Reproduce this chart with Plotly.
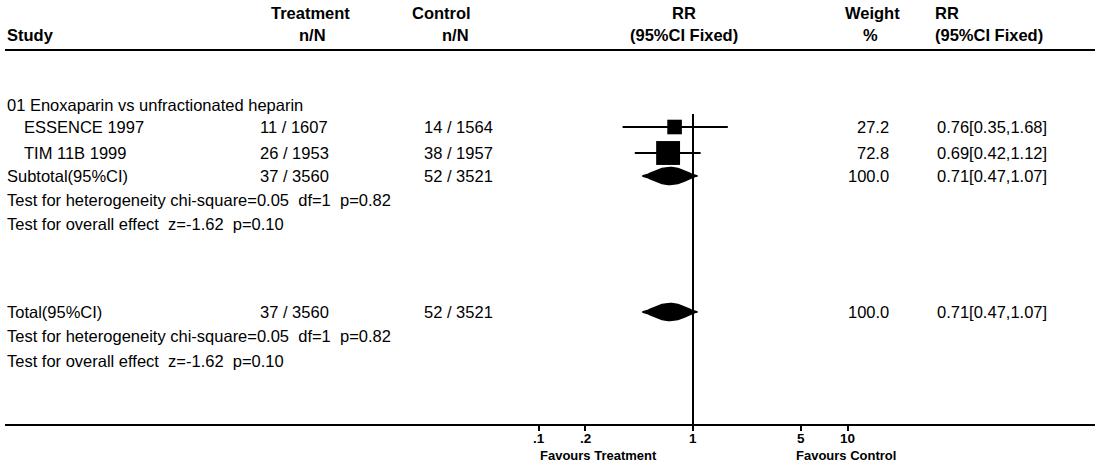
import plotly.graph_objects as go
import math

# ---------------- data ----------------
group_label = "01 Enoxaparin vs unfractionated heparin"
studies = ["ESSENCE 1997", "TIM 11B 1999"]
treat_events = [11, 26]
treat_total = [1607, 1953]
ctrl_events = [14, 38]
ctrl_total = [1564, 1957]
weights = [27.2, 72.8]
rr = [0.76, 0.69]
rr_lo = [0.35, 0.42]
rr_hi = [1.68, 1.12]

sub_treat = [37, 3560]
sub_ctrl = [52, 3521]
sub_weight = 100.0
sub_rr = [0.71, 0.47, 1.07]

het_chi2 = 0.05
het_df = 1
het_p = 0.82
overall_z = -1.62
overall_p = 0.10

tick_vals = [0.1, 0.2, 1, 5, 10]
tick_text = [".1", ".2", "1", "5", "10"]

# ---------------- layout constants (pixels) ----------------
W, H = 1099, 476
FONT = "Liberation Sans, Arial, sans-serif"
FS = 16.5
X_STUDY, X_INDENT = 5, 22
X_TREAT, X_CTRL = 258, 422
X_WEIGHT_R = 891
X_RRTXT = 935
ROW_GROUP = 105
ROW_STUDY = [127, 153]
ROW_SUB, ROW_SUB_HET, ROW_SUB_OV = 176, 200, 224
ROW_TOT, ROW_TOT_HET, ROW_TOT_OV = 312, 336, 361
Y_HEAD1, Y_HEAD2 = 13, 35
Y_TOPLINE, Y_AXIS = 50, 425
Y_TICKLAB, Y_FAV = 438, 455
AX_X0, AX_X1 = 5, 1095
PX_ONE, PX_DEC = 693, 154.5
NB = "\u00a0"

def px(x):
    return x / W

ann = []

def txt(x, y, s, anchor="left", bold=False, size=FS, xref="paper"):
    ann.append(dict(x=px(x) if xref == "paper" else x, y=y, xref=xref, yref="y",
                    text=s, showarrow=False,
                    xanchor=anchor, yanchor="middle",
                    font=dict(family=FONT, size=size, color="black",
                              weight="bold" if bold else "normal")))

# headers
txt(5, Y_HEAD2, "Study", bold=True)
txt(310, Y_HEAD1, "Treatment", "center", True)
txt(312, Y_HEAD2, "n/N", "center", True)
txt(441, Y_HEAD1, "Control", "center", True)
txt(455, Y_HEAD2, "n/N", "center", True)
txt(684, Y_HEAD1, "RR", "center", True)
txt(684, Y_HEAD2, "(95%CI Fixed)", "center", True)
txt(872, Y_HEAD1, "Weight", "center", True)
txt(870, Y_HEAD2, "%", "center", True)
txt(933, Y_HEAD1, "RR", "left", True)
txt(933, Y_HEAD2, "(95%CI Fixed)", "left", True)

txt(X_STUDY, ROW_GROUP, group_label)
for i, s in enumerate(studies):
    y = ROW_STUDY[i]
    txt(X_INDENT, y, s)
    txt(X_TREAT, y, f"{treat_events[i]} / {treat_total[i]}")
    txt(X_CTRL, y, f"{ctrl_events[i]} / {ctrl_total[i]}")
    txt(X_WEIGHT_R, y, f"{weights[i]:.1f}", "right")
    txt(X_RRTXT, y, f"{rr[i]:.2f}[{rr_lo[i]:.2f},{rr_hi[i]:.2f}]")

sp2 = NB + NB
het_s = f"Test for heterogeneity chi-square={het_chi2:.2f}{sp2}df={het_df}{sp2}p={het_p:.2f}"
ov_s = f"Test for overall effect{sp2}z={overall_z:.2f}{sp2}p={overall_p:.2f}"
for label, yrow, yh, yo in [("Subtotal(95%CI)", ROW_SUB, ROW_SUB_HET, ROW_SUB_OV),
                            ("Total(95%CI)", ROW_TOT, ROW_TOT_HET, ROW_TOT_OV)]:
    txt(X_STUDY, yrow, label)
    txt(X_TREAT, yrow, f"{sub_treat[0]} / {sub_treat[1]}")
    txt(X_CTRL, yrow, f"{sub_ctrl[0]} / {sub_ctrl[1]}")
    txt(X_WEIGHT_R, yrow, f"{sub_weight:.1f}", "right")
    txt(X_RRTXT, yrow, f"{sub_rr[0]:.2f}[{sub_rr[1]:.2f},{sub_rr[2]:.2f}]")
    txt(X_STUDY, yh, het_s)
    txt(X_STUDY, yo, ov_s)

# tick labels (placed on the log axis)
for v, t in zip(tick_vals, tick_text):
    txt(math.log10(v), Y_TICKLAB, t, "center", True, 13.5, xref="x")

txt(598, Y_FAV, "Favours Treatment", "center", True, 13)
txt(846, Y_FAV, "Favours Control", "center", True, 13)

fig = go.Figure()

# CI lines and boxes
for i in range(len(studies)):
    y = ROW_STUDY[i]
    fig.add_trace(go.Scatter(x=[rr_lo[i], rr_hi[i]], y=[y, y], mode="lines",
                             line=dict(color="black", width=2), showlegend=False,
                             hoverinfo="skip"))
fig.add_trace(go.Scatter(x=rr, y=ROW_STUDY, mode="markers", opacity=1,
                         marker=dict(symbol="square", color="black", opacity=1,
                                     size=[2.8 * math.sqrt(w) for w in weights],
                                     line=dict(width=0)),
                         showlegend=False, hoverinfo="skip"))

# diamonds (lens-like pooled estimate)
N_PTS = 14
for yrow in [ROW_SUB, ROW_TOT]:
    c, lo, hi = sub_rr
    lc, llo, lhi = math.log10(c), math.log10(lo), math.log10(hi)
    h = 8.5
    xs_top, ys_top = [], []
    for k in range(N_PTS + 1):
        t = -1 + k / N_PTS
        xs_top.append(10 ** (lc + t * (lc - llo)))
        ys_top.append(yrow - h * (1 - t * t) ** 1.6)
    for k in range(1, N_PTS + 1):
        t = k / N_PTS
        xs_top.append(10 ** (lc + t * (lhi - lc)))
        ys_top.append(yrow - h * (1 - t * t) ** 1.6)
    xs = xs_top + xs_top[::-1]
    ys = ys_top + [2 * yrow - y for y in ys_top[::-1]]
    fig.add_trace(go.Scatter(x=xs, y=ys, mode="lines", fill="toself", fillcolor="black",
                             line=dict(color="black", width=1.5),
                             showlegend=False, hoverinfo="skip"))

# lines
shapes = [
    dict(type="line", xref="paper", yref="y", x0=px(AX_X0), x1=px(AX_X1),
         y0=Y_TOPLINE, y1=Y_TOPLINE, line=dict(color="black", width=2)),
    dict(type="line", xref="x", yref="y", x0=1, x1=1, y0=114, y1=Y_AXIS,
         line=dict(color="black", width=2)),
]

L = (AX_X0 - PX_ONE) / PX_DEC
R = (AX_X1 - PX_ONE) / PX_DEC

fig.update_layout(
    width=W, height=H, margin=dict(l=0, r=0, t=0, b=0),
    paper_bgcolor="white", plot_bgcolor="white",
    annotations=ann, shapes=shapes,
    xaxis=dict(type="log", range=[L, R], domain=[px(AX_X0), px(AX_X1)],
               anchor="free", position=(H - Y_AXIS) / H,
               showgrid=False, zeroline=False, showline=True, linecolor="black",
               linewidth=2, ticks="outside", ticklen=5, tickwidth=1.5,
               tickcolor="black", tickvals=tick_vals, showticklabels=False),
    yaxis=dict(range=[H, 0], domain=[0, 1], visible=False, showgrid=False,
               zeroline=False),
)

fig.write_html("out.html")
